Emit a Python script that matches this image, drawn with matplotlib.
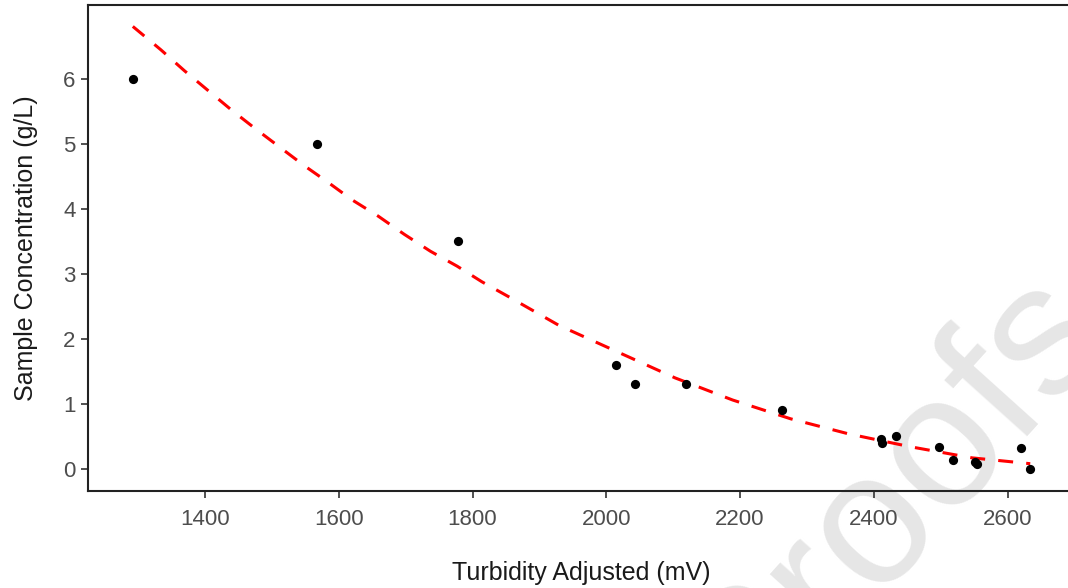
import matplotlib
matplotlib.use("Agg")
import matplotlib.pyplot as plt

plt.rcParams['font.family'] = ['Liberation Sans', 'DejaVu Sans']

# measured points
turbidity = [1292, 1567, 1779, 2014, 2043, 2119, 2263, 2411, 2413, 2433,
             2498, 2518, 2552, 2554, 2620, 2634]
concentration = [6.0, 5.0, 3.5, 1.6, 1.3, 1.3, 0.9, 0.46, 0.4, 0.5,
                 0.34, 0.14, 0.10, 0.08, 0.32, 0.0]

# fitted curve
fit_x = [1292, 1334, 1369, 1405, 1440, 1476, 1512, 1548, 1584, 1620,
         1659, 1698, 1737, 1777, 1814, 1854, 1929, 2017, 2103, 2189,
         2276, 2362, 2455, 2547, 2634]
fit_y = [6.81, 6.45, 6.13, 5.82, 5.52, 5.23, 4.95, 4.67, 4.41, 4.14,
         3.89, 3.61, 3.35, 3.12, 2.88, 2.65, 2.21, 1.80, 1.40, 1.06,
         0.77, 0.54, 0.34, 0.17, 0.08]

x_ticks = [1400, 1600, 1800, 2000, 2200, 2400, 2600]
y_ticks = [0, 1, 2, 3, 4, 5, 6]

fig = plt.figure(figsize=(10.68, 5.88), dpi=100)
ax = fig.add_axes([0.0824, 0.165, 0.9242, 0.8265])
ax.patch.set_alpha(0)

# watermark
fig.text(0.6995, -0.2434, "Proofs", fontsize=135, color='#e6e6e6',
         rotation=48, rotation_mode='anchor', ha='left', va='baseline',
         zorder=-1)

ax.plot(fit_x, fit_y, color='red', lw=2.2, dashes=(4.9, 4.3), zorder=2)
ax.scatter(turbidity, concentration, s=44, color='black', zorder=3,
           linewidths=0)

ax.set_xlim(1225, 2701)
ax.set_ylim(-0.34, 7.14)
ax.set_xticks(x_ticks)
ax.set_yticks(y_ticks)

for sp in ax.spines.values():
    sp.set_linewidth(1.5)
    sp.set_color('#222222')

ax.tick_params(axis='both', length=5, width=1.2, color='#333333',
               labelcolor='#4d4d4d', labelsize=16)
ax.tick_params(axis='x', pad=8)
ax.tick_params(axis='y', pad=4)

ax.set_xlabel('Turbidity Adjusted (mV)', fontsize=18, color='#1a1a1a',
              labelpad=22)
ax.set_ylabel('Sample Concentration (g/L)', fontsize=18, color='#1a1a1a',
              labelpad=18)

fig.savefig('out.png', dpi=100)
